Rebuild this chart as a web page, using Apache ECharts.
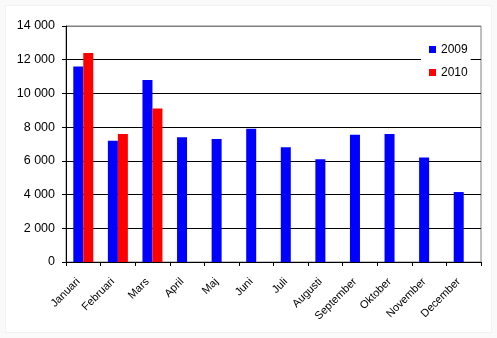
<!DOCTYPE html>
<html>
<head>
<meta charset="utf-8">
<script src="https://cdn.jsdelivr.net/npm/echarts@6/dist/echarts.min.js"></script>
<style>
html,body{margin:0;padding:0;background:#fafafa;}
#frame{position:absolute;left:5px;top:5px;width:485px;height:326px;background:#fff;border:1px solid #f2f2f2;}
#chart{position:absolute;left:0;top:0;width:497px;height:338px;}
</style>
</head>
<body>
<div id="frame"></div>
<div id="chart"></div>
<script>
const months = ['Januari','Februari','Mars','April','Maj','Juni','Juli','Augusti','September','Oktober','November','December'];
const seriesNames = ['2009','2010'];
const values2009 = [11600, 7200, 10800, 7400, 7300, 7900, 6800, 6100, 7550, 7600, 6200, 4150];
const values2010 = [12400, 7600, 9100, null, null, null, null, null, null, null, null, null];
const yTicks = [0, 2000, 4000, 6000, 8000, 10000, 12000, 14000];

const chart = echarts.init(document.getElementById('chart'), null, {renderer:'canvas'});
const fmt = v => String(v).replace(/\B(?=(\d{3})+(?!\d))/g, ' ');
chart.setOption({
  animation:false,
  textStyle:{fontFamily:'Liberation Sans, Arial, sans-serif'},
  grid:{left:66,right:16,top:26,bottom:76,show:true,borderColor:'#808080',borderWidth:1,backgroundColor:'#fff'},
  legend:{
    orient:'vertical', left:421, top:35,
    backgroundColor:'#fff',
    padding:[8,3,8,8],
    itemWidth:7, itemHeight:7, itemGap:10, itemTextGap:3,
    icon:'rect',
    textStyle:{fontSize:12,color:'#000',fontFamily:'Liberation Sans, Arial, sans-serif',lineHeight:13},
    data:seriesNames
  },
  xAxis:{
    type:'category', data:months,
    axisLine:{lineStyle:{color:'#000',width:1}},
    axisTick:{show:true,length:4,lineStyle:{color:'#000'}},
    axisLabel:{rotate:45,fontSize:11,color:'#000',margin:13,padding:[0,7,0,0],interval:0,fontFamily:'Liberation Sans, Arial, sans-serif'}
  },
  yAxis:{
    type:'value', min:yTicks[0], max:yTicks[yTicks.length-1], interval:2000,
    axisLine:{show:true,lineStyle:{color:'#000',width:1}},
    axisTick:{show:true,length:4,lineStyle:{color:'#000'}},
    axisLabel:{fontSize:12.5,color:'#000',margin:11,formatter:fmt,fontFamily:'Liberation Sans, Arial, sans-serif'},
    splitLine:{show:true,lineStyle:{color:['#000','#000','#000','#000','#000','#000','#000','#808080'],width:1}}
  },
  series:[
    {name:seriesNames[0],type:'bar',data:values2009,barWidth:10,barGap:'0%',itemStyle:{color:'#0000ff'}},
    {name:seriesNames[1],type:'bar',data:values2010,barWidth:10,barGap:'0%',itemStyle:{color:'#ff0000'}}
  ]
});
</script>
</body>
</html>
